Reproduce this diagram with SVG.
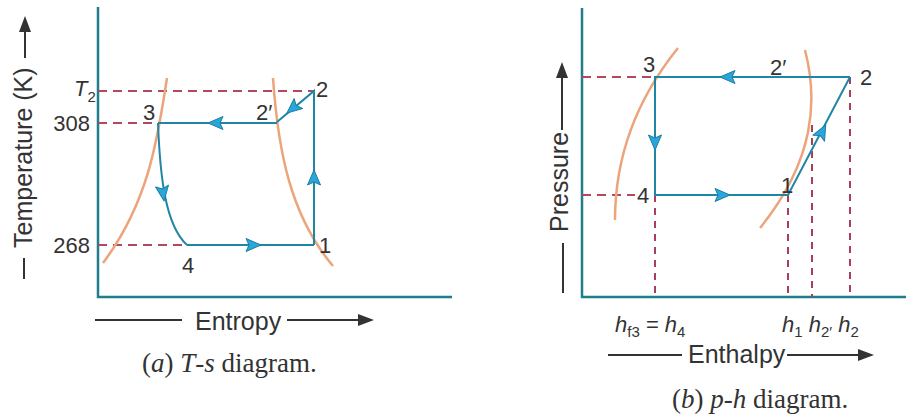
<svg xmlns="http://www.w3.org/2000/svg" xmlns:xlink="http://www.w3.org/1999/xlink" width="909" height="418" viewBox="0 0 909 418">
<style>
.axis{stroke:#1f7d8c;stroke-width:2.5;fill:none}
.cyc{stroke:#1f86a6;stroke-width:2;fill:none}
.dash{stroke:#b5485f;stroke-width:2;stroke-dasharray:9,6;fill:none}
.vdash{stroke:#a8405c;stroke-width:2;stroke-dasharray:7,6;fill:none}
.sat{stroke:#eca47a;stroke-width:2.5;fill:none}
.lbl{font-family:"Liberation Sans",Arial,sans-serif;font-size:22px;fill:#333}
.ttl{font-family:"Liberation Sans",Arial,sans-serif;font-size:25px;fill:#333}
.cap{font-family:"Liberation Serif","Times New Roman",serif;font-size:27px;fill:#333}
.hl{font-family:"Liberation Sans",Arial,sans-serif;font-size:22px;font-style:italic;fill:#333}
.sub{font-size:15px;font-style:normal}
.darr{stroke:#333;stroke-width:2;fill:none}
</style>
<defs>
<path id="ah" d="M8,0 L-7,-6.5 L-4,0 L-7,6.5 Z" fill="#2aa6da" stroke="#1a7fa0" stroke-width="1" stroke-linejoin="round"/>
<path id="bh" d="M10,0 L-6,-6 L-6,6 Z" fill="#333"/>
</defs>

<!-- ===== (a) T-s diagram ===== -->
<g id="ts-axes">
<path class="axis" d="M98,7 V297 H452"/>
</g>
<g id="ts-dashed">
<path class="dash" d="M98,91 H314"/>
<path class="dash" d="M98,123 H158"/>
<path class="dash" d="M98,245 H187"/>
</g>
<g id="ts-saturation">
<path class="sat" d="M167,78 C158,135 150,200 103,263"/>
<path class="sat" d="M273,78 C278,150 290,215 333,266"/>
</g>
<g id="ts-connectors">
<path class="cyc" d="M314,245 V91 L277,122"/>
<path class="cyc" d="M277,123 H158"/>
<path class="cyc" d="M158,123 C160,175 165,225 187,245"/>
<path class="cyc" d="M187,245 H314"/>
<use xlink:href="#ah" transform="translate(216,123) rotate(180)"/>
<use xlink:href="#ah" transform="translate(253,245)"/>
<use xlink:href="#ah" transform="translate(314,178) rotate(-90)"/>
<use xlink:href="#ah" transform="translate(293,108) rotate(140)"/>
<use xlink:href="#ah" transform="translate(163,193) rotate(82)"/>
</g>
<g id="ts-node-1"><text class="lbl" x="319" y="253">1</text></g>
<g id="ts-node-2"><text class="lbl" x="316" y="97">2</text></g>
<g id="ts-node-2p"><text class="lbl" x="256" y="120">2′</text></g>
<g id="ts-node-3"><text class="lbl" x="143" y="120">3</text></g>
<g id="ts-node-4"><text class="lbl" x="182" y="273">4</text></g>
<g id="ts-ticks">
<text class="lbl" x="74" y="96" font-style="italic">T<tspan class="sub" dy="6">2</tspan></text>
<text class="lbl" x="90" y="131" text-anchor="end">308</text>
<text class="lbl" x="90" y="253" text-anchor="end">268</text>
</g>
<g id="ts-ylabel">
<text class="ttl" transform="translate(32,248) rotate(-90)">Temperature (K)</text>
<path class="darr" d="M25,58 V32"/>
<use xlink:href="#bh" transform="translate(25,26) rotate(-90)"/>
<path class="darr" d="M24,258 V279"/>
</g>
<g id="ts-xlabel">
<path class="darr" d="M95,320 H182"/>
<text class="ttl" x="195" y="330" font-size="24">Entropy</text>
<path class="darr" d="M287,320 H362"/>
<use xlink:href="#bh" transform="translate(364,320)"/>
</g>
<text class="cap" x="142" y="372">(<tspan font-style="italic">a</tspan>) <tspan font-style="italic">T</tspan>-<tspan font-style="italic">s</tspan> diagram.</text>

<!-- ===== (b) p-h diagram ===== -->
<g id="ph-axes">
<path class="axis" d="M582,8 V297 H906"/>
</g>
<g id="ph-dashed">
<path class="dash" d="M582,77 H655"/>
<path class="dash" d="M582,195 H635"/>
<path class="vdash" d="M655,195 V297"/>
<path class="vdash" d="M788,195 V297"/>
<path class="vdash" d="M812,125 V297"/>
<path class="vdash" d="M850,77 V297"/>
</g>
<g id="ph-saturation">
<path class="sat" d="M678,48 C640,95 615,150 615,220"/>
<path class="sat" d="M805,50 C818,100 815,160 760,228"/>
</g>
<g id="ph-connectors">
<path class="cyc" d="M850,77 H655 V195 H788 L850,77"/>
<use xlink:href="#ah" transform="translate(728,77) rotate(180)"/>
<use xlink:href="#ah" transform="translate(655,142) rotate(90)"/>
<use xlink:href="#ah" transform="translate(722,195)"/>
<use xlink:href="#ah" transform="translate(822,132) rotate(-62.3)"/>
</g>
<g id="ph-node-1"><text class="lbl" x="781" y="193">1</text></g>
<g id="ph-node-2"><text class="lbl" x="860" y="85">2</text></g>
<g id="ph-node-2p"><text class="lbl" x="770" y="75">2′</text></g>
<g id="ph-node-3"><text class="lbl" x="643" y="72">3</text></g>
<g id="ph-node-4"><text class="lbl" x="637" y="203">4</text></g>
<g id="ph-ticks">
<text class="hl" x="615" y="332">h<tspan class="sub" dy="5">f3</tspan><tspan font-style="normal" dy="-5"> = </tspan>h<tspan class="sub" dy="5">4</tspan></text>
<text class="hl" x="782" y="332">h<tspan class="sub" dy="5">1</tspan><tspan dy="-5"> h</tspan><tspan class="sub" dy="5">2′</tspan><tspan dy="-5"> h</tspan><tspan class="sub" dy="5">2</tspan></text>
</g>
<g id="ph-ylabel">
<text class="ttl" transform="translate(568,232) rotate(-90)">Pressure</text>
<path class="darr" d="M562,130 V78"/>
<use xlink:href="#bh" transform="translate(562,72) rotate(-90)"/>
<path class="darr" d="M563,243 V293"/>
</g>
<g id="ph-xlabel">
<path class="darr" d="M608,355 H682"/>
<text class="ttl" x="688" y="363" font-size="24">Enthalpy</text>
<path class="darr" d="M787,355 H862"/>
<use xlink:href="#bh" transform="translate(864,355)"/>
</g>
<text class="cap" x="672" y="408">(<tspan font-style="italic">b</tspan>) <tspan font-style="italic">p</tspan>-<tspan font-style="italic">h</tspan> diagram.</text>
</svg>
